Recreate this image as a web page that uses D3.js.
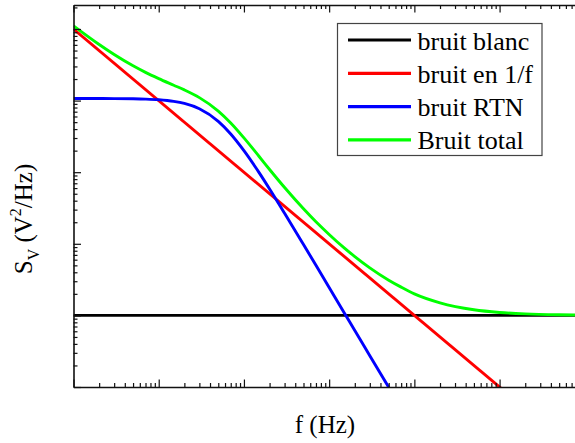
<!DOCTYPE html>
<html>
<head>
<meta charset="utf-8">
<script src="https://cdn.jsdelivr.net/npm/d3@7"></script>
<style>
  html, body { margin: 0; padding: 0; background: #fff; }
  svg { display: block; }
</style>
</head>
<body>
<div id="chart"></div>
<script>
// ---- Data (log-log) ----
const seriesNames = ['bruit blanc', 'bruit en 1/f', 'bruit RTN', 'Bruit total'];
const seriesColors = ['#000000', '#ff0000', '#0000ff', '#00ff00'];

const freqBlanc = [1, 1e6];
const valBlanc = [1e-14, 1e-14];

const freqOneF = [1, 1e6];
const valOneF = [1e-10, 1e-16];

const freqRtn = [1, 2, 3, 5, 7, 10, 15, 20, 30, 50, 70, 100, 150, 200, 300, 500, 700, 1000, 1500, 2000, 3000, 5000];
const valRtn = [1.07e-11, 1.068e-11, 1.066e-11, 1.059e-11, 1.048e-11, 1.026e-11, 9.75e-12, 9.12e-12, 7.69e-12,
  5.13e-12, 3.42e-12, 2.0e-12, 9.94e-13, 5.83e-13, 2.67e-13, 9.77e-14, 5.01e-14, 2.46e-14, 1.09e-14,
  6.16e-15, 2.74e-15, 9.9e-16];

const freqTotal = [1, 2, 3, 5, 7, 10, 15, 20, 30, 50, 70, 100, 150, 200, 300, 500, 700, 1000, 1500, 2000,
  3000, 5000, 7000, 1e4, 2e4, 5e4, 1e5, 2e5, 5e5, 1e6];
const valTotal = [1.107e-10, 6.07e-11, 4.40e-11, 3.06e-11, 2.48e-11, 2.03e-11, 1.64e-11, 1.41e-11, 1.10e-11,
  7.14e-12, 4.86e-12, 3.01e-12, 1.67e-12, 1.09e-12, 6.10e-13, 3.08e-13, 2.03e-13, 1.35e-13, 8.76e-14,
  6.62e-14, 4.61e-14, 3.10e-14, 2.48e-14, 2.00e-14, 1.50e-14, 1.20e-14, 1.10e-14, 1.05e-14, 1.02e-14, 1.01e-14];

const xDecades = [1, 10, 100, 1e3, 1e4, 1e5];
const yDecades = [1e-15, 1e-14, 1e-13, 1e-12, 1e-11, 1e-10];

// ---- Layout ----
const W = 575, H = 443;
const plotL = 73.5, plotR = 575, plotT = 5, plotB = 387;
const serif = "'Liberation Serif', 'DejaVu Serif', 'Times New Roman', Times, serif";

const svg = d3.select('#chart').append('svg').attr('width', W).attr('height', H);

const x = d3.scaleLog().domain([1, Math.pow(10, 5.885)]).range([plotL, plotR]);
const y = d3.scaleLog().domain([1e-15, Math.pow(10, -9.665)]).range([plotB, plotT]);

// minor tick values
const minor = (decs, lo, hi) => {
  const out = [];
  decs.concat([decs[decs.length - 1] * 10]).forEach(d => {
    for (let k = 2; k <= 9; k++) {
      const v = d * k;
      if (v > lo && v < hi) out.push(v);
    }
  });
  return out;
};
const xMinor = minor(xDecades, x.domain()[0], x.domain()[1]);
const yMinor = minor(yDecades, y.domain()[0], y.domain()[1]);

svg.append('defs').append('clipPath').attr('id', 'plotClip')
  .append('rect').attr('x', plotL).attr('y', plotT).attr('width', plotR - plotL).attr('height', plotB - plotT);

// ---- Curves ----
const line = d3.line()
  .x(d => x(d[0]))
  .y(d => y(d[1]))
  .curve(d3.curveMonotoneX);

const series = [
  [freqBlanc, valBlanc],
  [freqOneF, valOneF],
  [freqRtn, valRtn],
  [freqTotal, valTotal]
];

const plot = svg.append('g').attr('clip-path', 'url(#plotClip)');
series.forEach(([fs, vs], i) => {
  plot.append('path')
    .datum(fs.map((f, j) => [f, vs[j]]))
    .attr('d', line)
    .attr('fill', 'none')
    .attr('stroke', seriesColors[i])
    .attr('stroke-width', 2.9);
});

// ---- Axes (ticks inward, no labels) ----
const axisStyle = sel => {
  sel.select('.domain').attr('stroke', '#111').attr('stroke-width', 1.6);
  sel.selectAll('.tick line').attr('stroke', '#111').attr('stroke-width', 1.2);
  sel.selectAll('.tick text').remove();
};

[[xDecades, -7.5], [xMinor, -4]].forEach(([vals, len], i) => {
  svg.append('g')
    .attr('transform', `translate(0,${plotB})`)
    .call(d3.axisBottom(x).tickValues(vals).tickSizeInner(len).tickSizeOuter(0).tickFormat(''))
    .call(axisStyle)
    .call(g => { if (i) g.select('.domain').remove(); });
  svg.append('g')
    .attr('transform', `translate(0,${plotT})`)
    .call(d3.axisTop(x).tickValues(vals).tickSizeInner(len).tickSizeOuter(0).tickFormat(''))
    .call(axisStyle)
    .call(g => { if (i) g.select('.domain').remove(); });
});

[[yDecades, -7.5], [yMinor, -4]].forEach(([vals, len], i) => {
  svg.append('g')
    .attr('transform', `translate(${plotL},0)`)
    .call(d3.axisLeft(y).tickValues(vals).tickSizeInner(len).tickSizeOuter(0).tickFormat(''))
    .call(axisStyle)
    .call(g => { if (i) g.select('.domain').remove(); });
});

// ---- Axis titles ----
svg.append('text')
  .attr('x', 325).attr('y', 433)
  .attr('text-anchor', 'middle')
  .style('font-family', serif)
  .attr('font-size', 25)
  .attr('fill', '#000')
  .text('f (Hz)');

const yl = svg.append('text')
  .attr('transform', 'translate(32,219) rotate(-90)')
  .attr('text-anchor', 'middle')
  .style('font-family', serif)
  .attr('font-size', 25)
  .attr('fill', '#000');
yl.append('tspan').text('S');
yl.append('tspan').attr('dy', 7).attr('font-size', 16).text('V');
yl.append('tspan').attr('dy', -7).text(' (V');
yl.append('tspan').attr('dy', -11).attr('font-size', 16).text('2');
yl.append('tspan').attr('dy', 11).text('/Hz)');

// ---- Legend ----
const leg = svg.append('g');
leg.append('rect')
  .attr('x', 337.5).attr('y', 23.5).attr('width', 204.5).attr('height', 132)
  .attr('fill', '#fff').attr('stroke', '#444').attr('stroke-width', 1.2);

seriesNames.forEach((name, i) => {
  const ly = 40 + i * 33.3;
  leg.append('line')
    .attr('x1', 348).attr('x2', 411).attr('y1', ly).attr('y2', ly)
    .attr('stroke', seriesColors[i]).attr('stroke-width', 3.2);
  leg.append('text')
    .attr('x', 417.5).attr('y', ly + 9.5)
    .style('font-family', serif)
    .attr('font-size', 26)
    .attr('fill', '#000')
    .text(name);
});
</script>
</body>
</html>
